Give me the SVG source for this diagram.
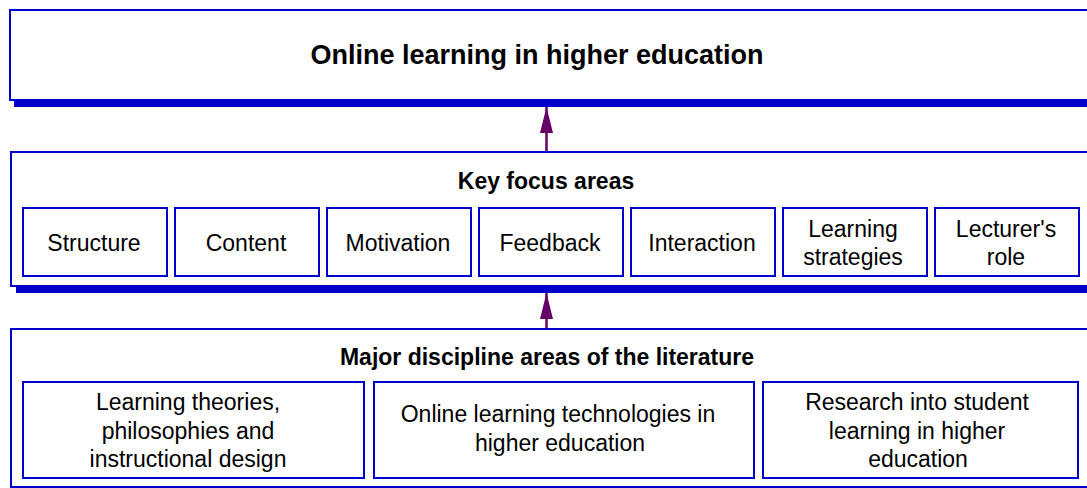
<svg xmlns="http://www.w3.org/2000/svg" width="1087" height="488" viewBox="0 0 1087 488">
<style>
.frame{fill:#ffffff;stroke:#0000cc;stroke-width:2}
.shadow{fill:#0000cc}
.box{fill:#ffffff;stroke:#0000cc;stroke-width:2}
.t{font-family:"Liberation Sans",Arial,sans-serif;font-size:23px;fill:#000;text-anchor:middle}
.h{font-family:"Liberation Sans",Arial,sans-serif;font-size:23px;font-weight:bold;fill:#000;text-anchor:middle}
.title{font-family:"Liberation Sans",Arial,sans-serif;font-size:27px;font-weight:bold;fill:#000;text-anchor:middle}
.conn{stroke:#660066;stroke-width:2.5;fill:none}
</style>
<defs>
<marker id="arr" markerWidth="26" markerHeight="13" refX="26" refY="6.5" orient="auto" markerUnits="userSpaceOnUse" viewBox="0 0 26 13">
<path d="M0,0 L26,6.5 L0,13 Z" fill="#660066"/>
</marker>
</defs>
<g id="top">
<rect class="shadow" x="14" y="20" width="1090" height="87"/>
<rect class="frame" x="10" y="10" width="1090" height="90"/>
<text class="title" x="537" y="64">Online learning in higher education</text>
</g>
<g id="focus">
<rect class="shadow" x="16" y="160" width="1090" height="133"/>
<rect class="frame" x="11" y="152" width="1090" height="134"/>
<text class="h" x="546" y="189">Key focus areas</text>
</g>
<g id="f1"><rect class="box" x="23" y="208" width="144" height="68"/><text class="t" x="94" y="251">Structure</text></g>
<g id="f2"><rect class="box" x="175" y="208" width="144" height="68"/><text class="t" x="246" y="251">Content</text></g>
<g id="f3"><rect class="box" x="327" y="208" width="144" height="68"/><text class="t" x="398" y="251">Motivation</text></g>
<g id="f4"><rect class="box" x="479" y="208" width="144" height="68"/><text class="t" x="550" y="251">Feedback</text></g>
<g id="f5"><rect class="box" x="631" y="208" width="144" height="68"/><text class="t" x="702" y="251">Interaction</text></g>
<g id="f6"><rect class="box" x="783" y="208" width="144" height="68"/><text class="t" x="853" y="237">Learning</text><text class="t" x="853" y="265">strategies</text></g>
<g id="f7"><rect class="box" x="935" y="208" width="144" height="68"/><text class="t" x="1006" y="237">Lecturer's</text><text class="t" x="1006" y="265">role</text></g>
<g id="disc">
<rect class="shadow" x="16" y="337" width="1090" height="160"/>
<rect class="frame" x="11" y="329" width="1090" height="158"/>
<text class="h" x="547" y="365">Major discipline areas of the literature</text>
</g>
<g id="d1"><rect class="box" x="23" y="382" width="341" height="96"/>
<text class="t" x="188" y="410">Learning theories,</text><text class="t" x="188" y="438.5">philosophies and</text><text class="t" x="188" y="467">instructional design</text></g>
<g id="d2"><rect class="box" x="374" y="382" width="380" height="96"/>
<text class="t" x="558" y="422">Online learning technologies in</text><text class="t" x="560" y="451">higher education</text></g>
<g id="d3"><rect class="box" x="763" y="382" width="315" height="96"/>
<text class="t" x="917" y="410">Research into student</text><text class="t" x="917" y="438.5">learning in higher</text><text class="t" x="918" y="467">education</text></g>
<g id="connectors">
<line class="conn" x1="546.5" y1="151" x2="546.5" y2="107" marker-end="url(#arr)"/>
<line class="conn" x1="546.5" y1="328" x2="546.5" y2="293" marker-end="url(#arr)"/>
</g>
</svg>
